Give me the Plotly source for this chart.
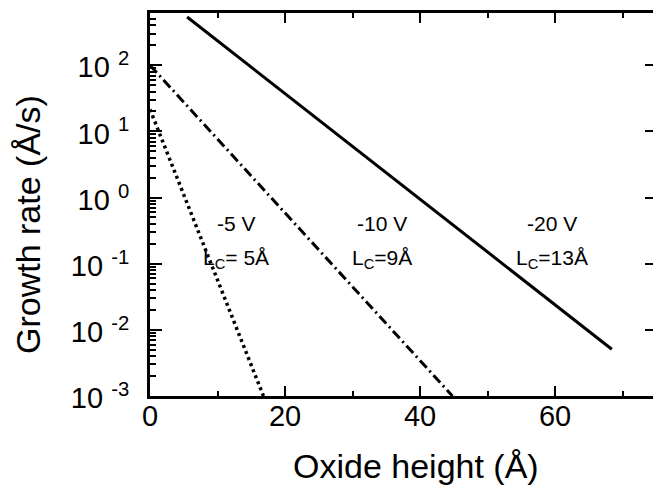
import plotly.graph_objects as go

# ---- data ----
solid_x = [5.5, 68.4]
solid_y = [537, 0.0051]
dashdot_x = [0.0, 44.8]
dashdot_y = [100, 0.001]
dot_x = [0.0, 16.8]
dot_y = [21.5, 0.001]

y_tickvals = [1e-3, 1e-2, 1e-1, 1e0, 1e1, 1e2]
y_ticktext = ["10 <sup>-3</sup>", "10 <sup>-2</sup>", "10 <sup>-1</sup>",
              "10 <sup>0</sup>", "10 <sup>1</sup>", "10 <sup>2</sup>"]
x_tickvals = [0, 20, 40, 60]
x_ticktext = ["0", "20", "40", "60"]

labels = [
    (236, "-5 V", "L<sub>C</sub>= 5Å"),
    (382, "-10 V", "L<sub>C</sub>=9Å"),
    (552, "-20 V", "L<sub>C</sub>=13Å"),
]

FONT = "Liberation Sans, Arial, sans-serif"
W, H = 653, 489
L, R, T, B = 150, 0, 13, 93
PW, PH = W - L - R, H - T - B

fig = go.Figure()
fig.add_trace(go.Scatter(x=solid_x, y=solid_y, mode="lines",
                         line=dict(color="black", width=3), showlegend=False))
fig.add_trace(go.Scatter(x=dashdot_x, y=dashdot_y, mode="lines",
                         line=dict(color="black", width=3, dash="10px,4px,2px,4px"),
                         showlegend=False))
fig.add_trace(go.Scatter(x=dot_x, y=dot_y, mode="lines",
                         line=dict(color="black", width=3.5, dash="3px,3.5px"),
                         showlegend=False))
# invisible trace for the right-hand tick axis
fig.add_trace(go.Scatter(x=[None], y=[None], yaxis="y2", showlegend=False,
                         hoverinfo="skip"))

yr = [-3, 2.79]
fig.update_layout(
    width=W, height=H,
    margin=dict(l=L, r=R, t=T, b=B),
    paper_bgcolor="white", plot_bgcolor="white",
    font=dict(family=FONT, color="black"),
    xaxis=dict(range=[0, 74.5], tickmode="array", tickvals=x_tickvals,
               ticktext=x_ticktext, ticks="inside", ticklen=10, tickwidth=2,
               tickcolor="black", showline=True, linewidth=3, linecolor="black",
               mirror="ticks", showgrid=False, zeroline=False,
               tickfont=dict(size=29, family=FONT), ticklabelstandoff=-8,
               minor=dict(dtick=10, tick0=0, ticks="inside", ticklen=5,
                          tickwidth=2, tickcolor="black", showgrid=False)),
    yaxis=dict(type="log", range=yr, tickmode="array", tickvals=y_tickvals,
               ticktext=y_ticktext, ticks="inside", ticklen=12, tickwidth=2,
               tickcolor="black", showline=True, linewidth=3, linecolor="black",
               showgrid=False, zeroline=False,
               tickfont=dict(size=29, family=FONT), ticklabelstandoff=12,
               ticklabelshift=2,
               minor=dict(dtick="D1", ticks="inside", ticklen=6, tickwidth=2,
                          tickcolor="black", showgrid=False)),
    yaxis2=dict(type="log", range=yr, overlaying="y", side="right",
                tickmode="array", tickvals=y_tickvals, ticks="inside",
                ticklen=8, tickwidth=2, tickcolor="black", showline=False,
                showticklabels=False, showgrid=False, zeroline=False),
)

for px, top, bot in labels:
    xp = (px - L) / PW
    fig.add_annotation(x=xp, y=(H - B - 223) / PH, xref="paper", yref="paper",
                       text=top, showarrow=False, font=dict(size=21, family=FONT),
                       xanchor="center", yanchor="middle")
    fig.add_annotation(x=xp, y=(H - B - 259) / PH, xref="paper", yref="paper",
                       text=bot, showarrow=False, font=dict(size=21, family=FONT),
                       xanchor="center", yanchor="middle")

fig.add_annotation(x=(416 - L) / PW, y=-(466 - (H - B)) / PH, xref="paper",
                   yref="paper", text="Oxide height (Å)", showarrow=False,
                   font=dict(size=34, family=FONT), xanchor="center",
                   yanchor="middle")
fig.add_annotation(x=(28 - L) / PW, y=((H - B) - 225) / PH, xref="paper",
                   yref="paper", text="Growth rate (Å/s)", showarrow=False,
                   textangle=-90, font=dict(size=34, family=FONT),
                   xanchor="center", yanchor="middle")

fig.write_html("out.html")
